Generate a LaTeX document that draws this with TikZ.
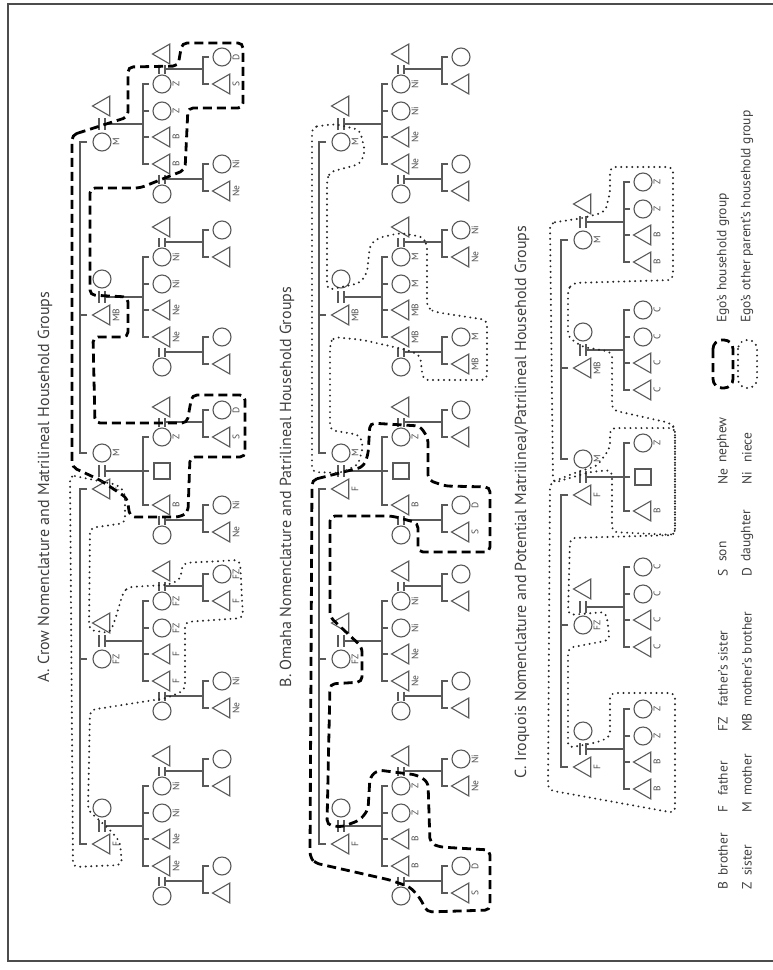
\documentclass[tikz,border=0pt]{standalone}
\usepackage{fontspec}
\setmainfont{PT Sans}
\usetikzlibrary{shapes.geometric}

% a set of siblings with their parents: #1 name, #2 panel x, #3 marriage level,
% #4 shape of the one on the sibling bar, #5 his/her label, #6-#9 the four children
\newcommand{\sibs}[9]{%
  \node[#4mate] (#1s) at (#2+22,#3-18) {};
  \node[#4] (#1p) at (#2+22,#3+18) {};
  \node[lbl] (#1pl) at (#2+36,#3+18) {#5};
  \coordinate (#1bt) at (#2+7,#3+18);
  \draw[kin] (#2+19,#3-6) -- (#2+19,#3+6) (#2+25,#3-6) -- (#2+25,#3+6);
  \coordinate (#1d) at (#2+25,#3);
  \coordinate (#1b) at (#2+63,#3);
  \draw[kin] (#1d) -- (#1b);
  \foreach \lab/\o/\sh [count=\i] in {#6/-40/ci,#7/-13/ci,#8/13/tr,#9/40/tr}{
    \node[\sh] (#1k\i) at (#2+82,#3+\o) {};
    \node[lbl] (#1kl\i) at (#2+96,#3+\o) {\lab};
    \coordinate (#1t\i) at (#2+69,#3+\o);
  }
  \draw[kin] (#1t1) -- (#1t1 -| #1b) -- (#1t4 -| #1b) -- (#1t4);
  \draw[kin] (#1t2) -- (#1t2 -| #1b) (#1t3) -- (#1t3 -| #1b);
}
% ego, his parents and siblings
\newcommand{\ego}[3]{%
  \node[ci] (#1m) at (#2+22,#3-18) {};
  \node[tr] (#1f) at (#2+22,#3+18) {};
  \node[lbl] (#1ml) at (#2+36,#3-18) {M};
  \node[lbl] (#1fl) at (#2+36,#3+18) {F};
  \coordinate (#1bm) at (#2+7,#3-18);
  \coordinate (#1bf) at (#2+7,#3+18);
  \draw[kin] (#2+19,#3-6) -- (#2+19,#3+6) (#2+25,#3-6) -- (#2+25,#3+6);
  \coordinate (#1d) at (#2+25,#3);
  \coordinate (#1b) at (#2+63,#3);
  \draw[kin] (#1d) -- (#1b);
  \foreach \lab/\o/\sh [count=\i] in {Z/-34/ci,{}/0/sq,B/34/tr}{
    \node[\sh] (#1k\i) at (#2+82,#3+\o) {};
    \node[lbl] (#1kl\i) at (#2+96,#3+\o) {\lab};
    \coordinate (#1t\i) at (#2+69,#3+\o);
  }
  \draw[kin] (#1t1) -- (#1t1 -| #1b) -- (#1t3 -| #1b) -- (#1t3);
  \draw[kin] (#1t2) -- (#1t2 -| #1b);
}
% a married child and the two grandchildren: #3 child level, #4 side (-1/1)
\newcommand{\wed}[7]{%
  \node[#5] (#1s) at (#2+82,#3+30*#4) {};
  \draw[kin] (#2+79,#3+10.5*#4) -- (#2+79,#3+19.5*#4) (#2+85,#3+10.5*#4) -- (#2+85,#3+19.5*#4);
  \coordinate (#1d) at (#2+85,#3+15*#4);
  \coordinate (#1b) at (#2+123,#3+15*#4);
  \draw[kin] (#1d) -- (#1b);
  \node[ci] (#1g1) at (#2+142,#3+13.5*#4-13.5) {};
  \node[tr] (#1g2) at (#2+142,#3+13.5*#4+13.5) {};
  \node[lbl] (#1gl1) at (#2+156,#3+13.5*#4-13.5) {#6};
  \node[lbl] (#1gl2) at (#2+156,#3+13.5*#4+13.5) {#7};
  \coordinate (#1t1) at (#2+129,#3+13.5*#4-13.5);
  \coordinate (#1t2) at (#2+129,#3+13.5*#4+13.5);
  \draw[kin] (#1t1) -- (#1t1 -| #1b) -- (#1t2 -| #1b) -- (#1t2);
}

\begin{document}
\begin{tikzpicture}[x=1pt,y=-1pt,
    kin/.style={draw=black!65,line width=1.1pt},
    ci/.style={kin,circle,minimum size=18pt,inner sep=0pt},
    tr/.style={kin,regular polygon,regular polygon sides=3,shape border rotate=90,minimum size=23pt,inner sep=0pt,xshift=2pt},
    sq/.style={kin,rectangle,minimum size=16pt,inner sep=0pt},
    cimate/.style={tr},
    trmate/.style={ci},
    lbl/.style={rotate=90,font=\fontsize{9.5}{10}\selectfont,text=black!70,inner sep=0pt},
    ttl/.style={rotate=90,font=\fontsize{16}{18}\selectfont,text=black!75},
    keytxt/.style={rotate=90,anchor=west,inner sep=0pt,font=\fontsize{13.5}{15}\selectfont,text=black!75},
    own/.style={line width=2.8pt,dash pattern=on 9pt off 5pt,rounded corners=5pt},
    otherhh/.style={black!85,line width=2.2pt,line cap=round,dash pattern=on 0pt off 5.5pt,rounded corners=5pt}]
  \useasboundingbox (0,0) rectangle (773,970);
  \draw[black!70,line width=2pt] (773,4) -- (8,4) -- (8,961) -- (773,961);

  \node[ttl] (ta) at (45,487) {A. Crow Nomenclature and Matrilineal Household Groups};
  \node[ttl] (tb) at (287,487) {B. Omaha Nomenclature and Patrilineal Household Groups};
  \node[ttl] (tc) at (522,502) {C. Iroquois Nomenclature and Potential Matrilineal/Patrilineal Household Groups};

  \foreach \fam/\X/\m/\ps/\pl/\ka/\kb/\kc/\kd/\ga/\gb/\gc/\gd in {
      A1/80/124/ci/M/Z/Z/B/B/D/S/Ni/Ne,
      A2/80/297/tr/MB/Ni/Ni/Ne/Ne/{}/{}/{}/{},
      A4/80/641/ci/FZ/FZ/FZ/F/F/FZ/F/Ni/Ne,
      A5/80/826/tr/F/Ni/Ni/Ne/Ne/{}/{}/{}/{},
      B1/319/124/ci/M/Ni/Ni/Ne/Ne/{}/{}/{}/{},
      B2/319/297/tr/MB/M/M/MB/MB/Ni/Ne/M/MB,
      B4/319/641/ci/FZ/Ni/Ni/Ne/Ne/{}/{}/{}/{},
      B5/319/826/tr/F/Z/Z/B/B/Ni/Ne/D/S}{
    \sibs{\fam}{\X}{\m}{\ps}{\pl}{\ka}{\kb}{\kc}{\kd}
    \wed{\fam u}{\X}{\m-40}{-1}{tr}{\ga}{\gb}
    \wed{\fam v}{\X}{\m+40}{1}{ci}{\gc}{\gd}
  }
  \foreach \fam/\m/\ps/\pl/\ka/\kb/\kc/\kd in {C1/222/ci/M/Z/Z/B/B, C2/350/tr/MB/C/C/C/C,
      C4/607/ci/FZ/C/C/C/C, C5/749/tr/F/Z/Z/B/B}{
    \sibs{\fam}{561}{\m}{\ps}{\pl}{\ka}{\kb}{\kc}{\kd}
  }
  \ego{A3}{80}{471}
  \ego{B3}{319}{471}
  \ego{C3}{561}{477}
  \wed{A3u}{80}{437}{-1}{tr}{D}{S}
  \wed{A3v}{80}{505}{1}{ci}{Ni}{Ne}
  \wed{B3u}{319}{437}{-1}{tr}{}{}
  \wed{B3v}{319}{505}{1}{ci}{D}{S}

  \foreach \pan in {A,B,C}{
    \draw[kin] (\pan 1bt) -- ++(-7,0) |- (\pan 3bm);
    \draw[kin] (\pan 2bt) -- ++(-7,0);
    \draw[kin] (\pan 3bf) -- ++(-7,0) |- (\pan 5bt);
    \draw[kin] (\pan 4bt) -- ++(-7,0);
  }

  % household groups
  \draw[own] (72,135) -- (128,117) -- (128,67) -- (178,66) -- (182,43) -- (243,43) -- (243,108)
    -- (188,108) -- (185,170) -- (140,188) -- (90,188) -- (90,295) -- (128,297) -- (128,337)
    -- (93,337) -- (95,423) -- (187,423) -- (192,395) -- (245,395) -- (245,457) -- (190,457)
    -- (188,512) -- (180,517) -- (130,517) -- (127,498) -- (100,480) -- (72,467) -- cycle;
  \draw[otherhh] (70,475) -- (118,485) -- (125,493) -- (125,523) -- (90,528) -- (89,630)
    -- (110,633) -- (115,620) -- (123,593) -- (128,587) -- (167,585) -- (180,580) -- (183,563)
    -- (240,560) -- (243,618) -- (185,622) -- (185,690) -- (167,698) -- (90,710) -- (88,810)
    -- (110,830) -- (120,842) -- (122,865) -- (73,867) -- cycle;
  \draw[own] (312,480) -- (363,467) -- (368,455) -- (370,423) -- (420,426) -- (428,438)
    -- (428,480) -- (445,486) -- (490,487) -- (490,552) -- (418,552) -- (418,523) -- (392,516)
    -- (330,516) -- (330,617) -- (362,647) -- (362,682) -- (330,684) -- (327,825) -- (342,827)
    -- (360,820) -- (368,810) -- (370,777) -- (378,770) -- (417,775) -- (428,782) -- (430,843)
    -- (440,847) -- (490,850) -- (490,910) -- (427,912) -- (420,898) -- (410,887) -- (390,880)
    -- (315,863) -- (310,857) -- cycle;
  \draw[otherhh] (312,127) -- (335,124) -- (360,130) -- (365,152) -- (360,164) -- (330,172)
    -- (327,180) -- (327,290) -- (360,283) -- (367,273) -- (370,245) -- (378,238) -- (400,233)
    -- (423,237) -- (427,245) -- (427,308) -- (435,312) -- (487,320) -- (487,380) -- (423,380)
    -- (420,355) -- (407,350) -- (363,340) -- (333,337) -- (330,345) -- (330,430) -- (360,435)
    -- (363,447) -- (358,465) -- (340,473) -- (312,472) -- cycle;
  \draw[otherhh] (550,223) -- (583,218) -- (605,212) -- (610,193) -- (610,167) -- (673,167)
    -- (673,280) -- (572,283) -- (568,290) -- (568,337) -- (583,347) -- (612,352) -- (612,410)
    -- (670,423) -- (675,428) -- (675,535) -- (612,532) -- (612,470) -- (590,472) -- (553,483) -- cycle;
  \draw[otherhh] (550,483) -- (577,472) -- (597,466) -- (610,448) -- (610,428) -- (675,428)
    -- (675,535) -- (570,538) -- (568,615) -- (606,612) -- (610,640) -- (568,648) -- (568,748)
    -- (598,742) -- (610,737) -- (610,693) -- (675,693) -- (675,813) -- (548,790) -- cycle;

  % key
  \foreach \ab/\nm/\x/\y/\g in {B/brother/723/890/14, Z/sister/747/890/14, F/father/723/813/17,
      M/mother/747/813/17, FZ/father's sister/723/732/25, MB/mother's brother/747/732/25,
      S/son/723/577/15, D/daughter/747/577/15, Ne/nephew/723/485/22, Ni/niece/747/485/22}{
    \node[keytxt] (k\ab) at (\x,\y) {\ab};
    \node[keytxt] (n\ab) at (\x,\y-\g) {\nm};
  }
  \draw[own,rounded corners=9pt] (713,340) rectangle (733,388);
  \draw[otherhh,rounded corners=9pt] (738,340) rectangle (757,388);
  \node[keytxt] (lown) at (723,323) {Ego's household group};
  \node[keytxt] (loth) at (747,323) {Ego's other parent's household group};
\end{tikzpicture}
\end{document}
